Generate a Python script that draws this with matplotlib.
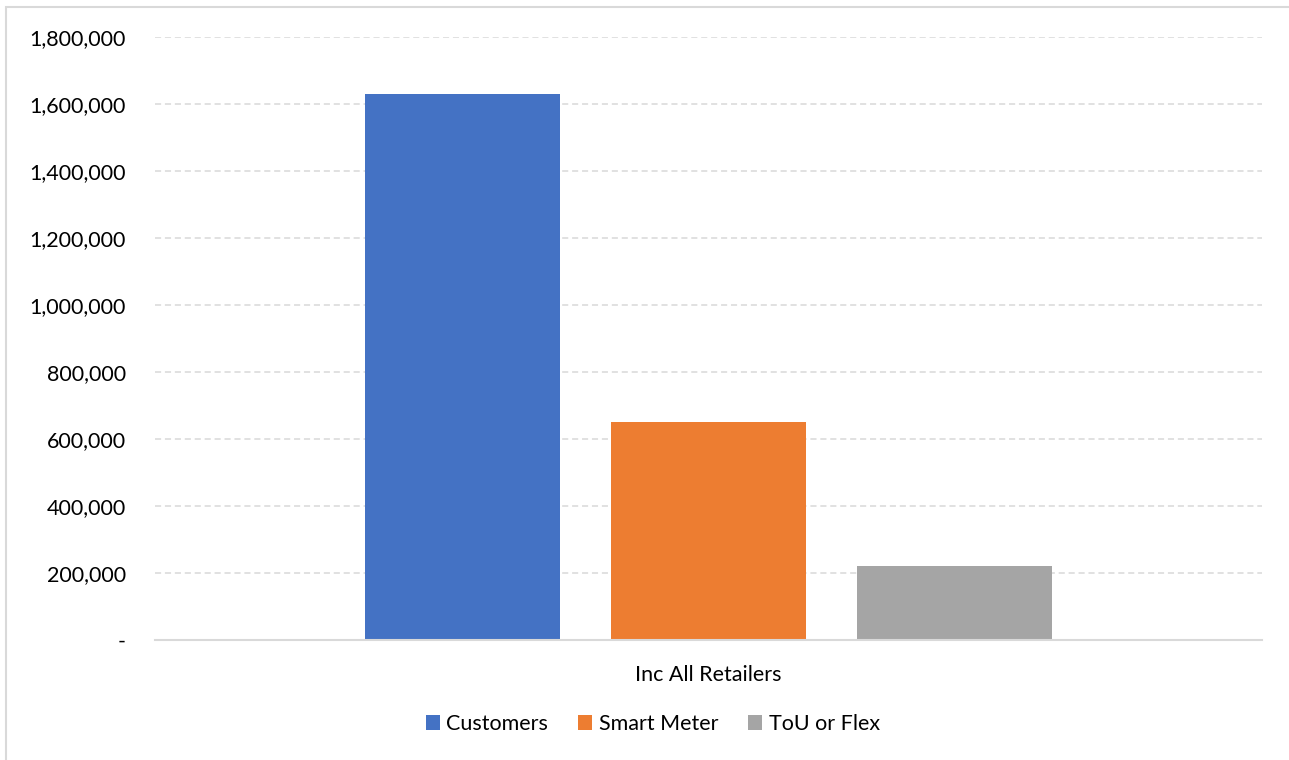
import matplotlib
matplotlib.use("Agg")
import matplotlib.pyplot as plt
import matplotlib.ticker as mticker
from matplotlib.patches import Rectangle, Patch

plt.rcParams['font.family'] = ['Lato', 'DejaVu Sans']

# data
category = "Inc All Retailers"
series = ["Customers", "Smart Meter", "ToU or Flex"]
values = [1630000, 651000, 221000]
colors = ["#4472c4", "#ed7d31", "#a5a5a5"]
yticks = [0, 200000, 400000, 600000, 800000, 1000000, 1200000, 1400000, 1600000, 1800000]

W, H = 1289, 760
fig = plt.figure(figsize=(W / 100, H / 100), dpi=100)

# chart-area border (runs off the right and bottom edges)
fig.patches.append(Rectangle((6 / W, -0.1), 1.2, 1 - 7 / H + 0.1, transform=fig.transFigure,
                             fill=False, edgecolor="#d9d9d9", linewidth=1.5))

ax = fig.add_axes([155 / W, 1 - 640 / H, (1262 - 155) / W, (640 - 37) / H])

bar_w = 0.1753
offsets = [-0.2222, 0, 0.2222]
for name, v, c, off in zip(series, values, colors, offsets):
    ax.bar(off, v, width=bar_w, color=c, label=name, zorder=3)

ax.set_xlim(-0.5, 0.5)
ax.set_ylim(0, 1800000)
ax.set_yticks(yticks)
ax.yaxis.set_major_formatter(mticker.FuncFormatter(lambda v, p: "-" if v == 0 else f"{int(v):,}"))
ax.set_xticks([0])
ax.set_xticklabels([category])
ax.tick_params(axis="both", length=0, labelsize=15.5, colors="#000000")
ax.tick_params(axis="y", pad=21)
ax.tick_params(axis="x", pad=18)

ax.grid(axis="y", color="#d9d9d9", linestyle=(0, (4, 2.5)), linewidth=1.1, zorder=0)
for s in ["top", "right", "left"]:
    ax.spines[s].set_visible(False)
ax.spines["bottom"].set_color("#d9d9d9")
ax.spines["bottom"].set_linewidth(1.5)
ax.spines["bottom"].set_zorder(4)

handles = [Patch(facecolor=c, label=n) for n, c in zip(series, colors)]
fig.legend(handles=handles, loc="center", bbox_to_anchor=(653 / W, 1 - 724 / H), ncol=3,
           frameon=False, fontsize=15.5, handlelength=0.65, handleheight=0.65,
           handletextpad=0.3, columnspacing=1.4)

fig.savefig("out.png", dpi=100)
